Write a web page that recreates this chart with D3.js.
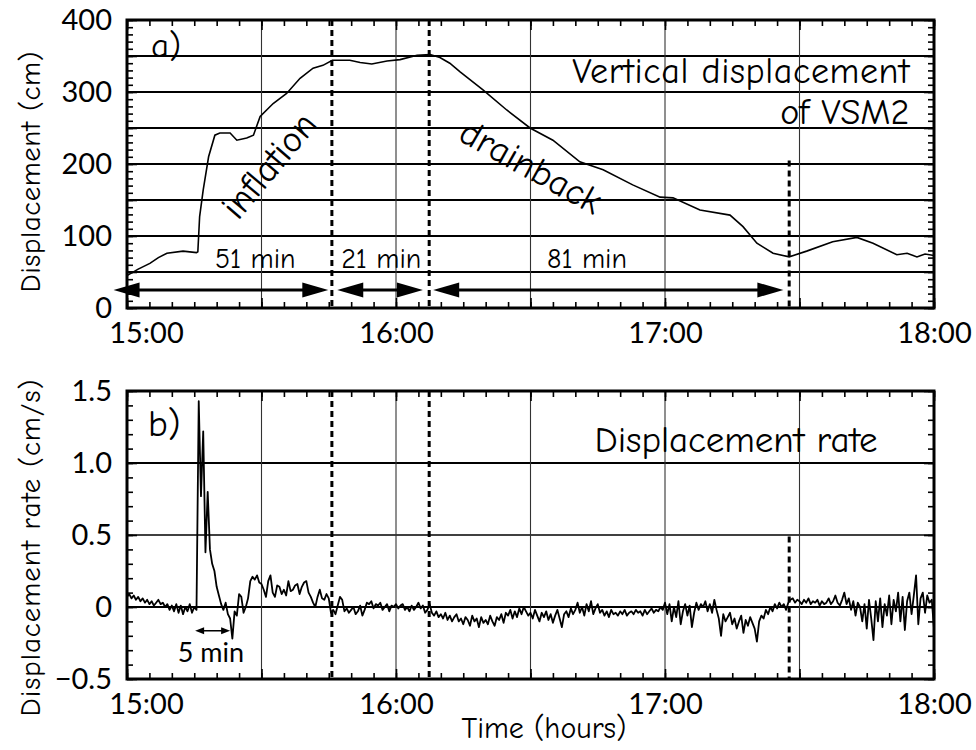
<!DOCTYPE html>
<html>
<head>
<meta charset="utf-8">
<script src="https://cdn.jsdelivr.net/npm/d3@7/dist/d3.min.js"></script>
<style>
body { margin: 0; background: #fff; }
</style>
</head>
<body>
<svg id="chart" width="976" height="750"></svg>
<script>

// TOP PANEL DATA (minutes after 15:00, cm)
let dispTime = [0, 2.5, 5.1, 7, 8.9, 12.5, 15.5, 15.8, 16.2, 17, 18.2, 19.6, 20.7, 23, 24.5, 26.7, 28.2, 29.7, 32.6, 35.6, 38.6, 41.5, 43.7, 45.8, 49.7, 52, 54.6, 58, 60.9, 64.7, 67.6, 69.8, 72, 74.3, 79.4, 84.7, 89.9, 95, 101, 106.2, 112.8, 118.9, 121.8, 127.8, 134.5, 137.4, 140.5, 144.1, 147.7, 151.6, 157.4, 162.8, 166.4, 171.7, 174, 176.2, 178, 180]
let dispValue = [45, 54, 62, 70, 76, 79, 77, 78, 127, 164, 210, 240, 243, 243, 233, 236, 240, 266, 284, 298, 319, 333, 337, 344, 344, 341, 339, 343, 345, 351, 352, 348, 340, 328, 303, 275, 250, 233, 203, 192, 171, 154, 153, 136, 129, 113, 90, 76, 71, 79, 92, 98, 90, 74, 76, 71, 75, 73]

// BOTTOM PANEL DATA (cm/s, one value every half minute from 15:00)
let rateStart = 0
let rateStep = 0.5
let rateValues = [
    0.07, 0.09, 0.06, 0.08, 0.05, 0.07, 0.04, 0.06, 0.03, 0.05, 0.02, 0.04, 0.01, 0.03, 0.05, 0.02, 0.03, 0.00, 0.02, -0.02,
    0.01, -0.03, 0.02, -0.04, 0.01, -0.05, 0.00, -0.03, 0.02, -0.04, 0.00, -0.02, 1.43, 0.77, 1.22, 0.38, 0.80, 0.40, 0.30, 0.25,
    0.14, 0.08, 0.02, -0.02, 0.03, -0.05, -0.08, -0.22, -0.03, -0.06, 0.09, 0.07, -0.04, 0.00, 0.06, 0.18, 0.21, 0.19, 0.22, 0.17,
    0.16, 0.12, 0.07, 0.18, 0.22, 0.10, 0.07, 0.15, 0.14, 0.09, 0.12, 0.08, 0.18, 0.11, 0.12, 0.15, 0.16, 0.09, 0.14, 0.17,
    0.18, 0.10, 0.07, 0.03, 0.00, 0.07, 0.12, 0.06, 0.05, 0.09, 0.06, -0.04, -0.02, -0.05, 0.01, 0.07, 0.05, -0.03, -0.01, -0.04,
    -0.02, 0.00, -0.05, -0.03, 0.01, -0.06, -0.02, 0.03, 0.02, 0.04, -0.01, 0.02, 0.01, 0.03, -0.02, 0.00, 0.02, -0.03, 0.01, 0.00,
    0.02, -0.01, 0.01, 0.02, -0.02, 0.00, -0.03, 0.01, -0.02, 0.00, 0.03, -0.01, 0.01, -0.04, -0.02, 0.02, -0.04, -0.06, -0.03, -0.07,
    -0.05, -0.08, -0.04, -0.09, -0.06, -0.10, -0.07, -0.05, -0.10, -0.08, -0.12, -0.07, -0.09, -0.13, -0.06, -0.10, -0.08, -0.14, -0.07, -0.11,
    -0.09, -0.12, -0.06, -0.10, -0.13, -0.07, -0.09, -0.05, -0.11, -0.04, -0.06, -0.02, -0.08, -0.03, -0.07, -0.01, -0.05, 0.00, -0.03, -0.06,
    -0.04, -0.08, -0.02, -0.06, -0.10, -0.04, -0.07, -0.03, -0.09, -0.05, -0.11, -0.06, -0.02, -0.08, -0.14, -0.05, -0.03, -0.07, -0.01, -0.05,
    -0.02, 0.03, -0.04, 0.00, -0.06, 0.02, -0.03, 0.04, -0.05, -0.01, 0.02, -0.04, -0.02, -0.06, -0.03, -0.07, -0.02, -0.05, -0.04, -0.06,
    -0.03, -0.05, -0.02, -0.06, -0.04, -0.03, -0.05, -0.02, -0.04, -0.03, -0.06, -0.02, -0.05, -0.03, -0.01, -0.04, -0.02, -0.03, 0.00, -0.02,
    0.03, -0.05, 0.02, -0.10, 0.00, -0.07, 0.04, -0.12, -0.03, 0.02, -0.06, 0.01, -0.14, -0.04, 0.03, -0.02, 0.02, 0.00, 0.04, -0.03,
    0.02, -0.04, 0.05, -0.02, -0.08, -0.20, -0.05, -0.10, -0.07, -0.04, -0.12, -0.08, -0.15, -0.10, -0.06, -0.18, -0.09, -0.13, -0.07, -0.11,
    -0.15, -0.24, -0.10, -0.06, -0.08, -0.02, -0.05, 0.00, -0.03, 0.02, -0.01, 0.03, 0.00, 0.02, -0.02, 0.03, 0.05, 0.06, 0.03, 0.05,
    0.04, 0.02, 0.05, 0.03, 0.06, 0.02, 0.04, 0.03, 0.05, 0.01, 0.04, 0.02, 0.03, 0.06, 0.02, 0.04, 0.08, 0.03, 0.01, 0.05,
    0.10, 0.02, 0.06, -0.02, 0.04, -0.06, 0.03, 0.00, -0.10, 0.02, -0.15, 0.05, -0.08, -0.23, 0.04, -0.10, 0.06, -0.14, 0.02, -0.06,
    0.08, -0.12, 0.05, -0.03, 0.10, -0.10, 0.07, -0.16, 0.04, 0.10, -0.05, 0.08, 0.22, -0.12, 0.06, 0.10, -0.04, 0.08, 0.03, 0.05,
    -0.15
]

// EVENT MARKERS AND SPANS (minutes after 15:00)
let markerTimes = [45.7, 67.4, 147.7]
let markerTopDisp = [400, 400, 205]
let markerTopRate = [1.5, 1.5, 0.49]
let spanStart = [-3, 46.9, 68.3]
let spanEnd = [44.9, 66, 146.4]
let spanLabels = ["51 min", "21 min", "81 min"]
let spanLabelTime = [28.6, 56.7, 102.6]

// TICKS
let hourTicks = [0, 60, 120, 180]
let dispTicks = [0, 100, 200, 300, 400]
let rateTicks = [-0.5, 0, 0.5, 1.0, 1.5]

let tickFont = "Lato, 'Open Sans', sans-serif"
let textFont = "'Comic Sans MS', 'Comic Neue', 'Open Sans', sans-serif"

let margins = {left: 127, right: 42}
let svgWidth = 976 - margins.left - margins.right
let panelHeight = 288

let svg = d3.select('#chart')

let x = d3.scaleLinear().domain([0, 180]).range([0, svgWidth])
let yDisp = d3.scaleLinear().domain([0, 400]).range([panelHeight, 0])
let yRate = d3.scaleLinear().domain([-0.5, 1.5]).range([panelHeight, 0])

let fmtHour = d => `${15 + d / 60}:00`

function styleTicks(g){
    g.select('.domain').remove()
    g.selectAll('line').attr('stroke', '#000').attr('stroke-width', 1.6)
}

function drawFrame(chart, y, minorY, majorY, yFormat, yTickValues){

    // VERTICAL GRID
    chart.append('g')
        .selectAll('line')
        .data([30, 60, 90, 120, 150])
        .enter()
        .append('line')
        .attr('x1', d => x(d)).attr('x2', d => x(d))
        .attr('y1', 0).attr('y2', panelHeight)
        .attr('stroke', '#333')
        .attr('stroke-width', 1.1)

    // X TICKS (inside, top and bottom)
    let tickSets = [
        {vals: d3.range(0, 181, 5), size: 6},
        {vals: d3.range(0, 181, 30), size: 10}
    ]
    tickSets.forEach(function(t){
        chart.append('g')
            .attr('transform', `translate(0, ${panelHeight})`)
            .call(d3.axisBottom(x).tickValues(t.vals).tickSize(-t.size).tickFormat(''))
            .call(styleTicks)
        chart.append('g')
            .call(d3.axisTop(x).tickValues(t.vals).tickSize(-t.size).tickFormat(''))
            .call(styleTicks)
    })

    // Y TICKS (inside, left and right)
    let ySets = [{vals: minorY, size: 6}, {vals: majorY, size: 10}]
    ySets.forEach(function(t){
        chart.append('g')
            .call(d3.axisLeft(y).tickValues(t.vals).tickSize(-t.size).tickFormat(''))
            .call(styleTicks)
        chart.append('g')
            .attr('transform', `translate(${svgWidth}, 0)`)
            .call(d3.axisRight(y).tickValues(t.vals).tickSize(-t.size).tickFormat(''))
            .call(styleTicks)
    })

    // TICK LABELS
    chart.append('g')
        .attr('transform', `translate(0, ${panelHeight + 1})`)
        .call(d3.axisBottom(x).tickValues(hourTicks).tickSize(0).tickPadding(13).tickFormat(fmtHour))
        .call(g => g.select('.domain').remove())
        .attr('font-family', tickFont)
        .attr('font-size', 29)
        .selectAll('text')
        .attr('fill', '#000')
        .attr('dx', d => d === 0 ? 19 : 0)
    chart.append('g')
        .call(d3.axisLeft(y).tickValues(yTickValues).tickSize(0).tickPadding(15).tickFormat(yFormat))
        .call(g => g.select('.domain').remove())
        .attr('font-family', tickFont)
        .attr('font-size', 29)
        .selectAll('text').attr('fill', '#000')
}

function drawBorder(chart){
    chart.append('rect')
        .attr('x', 0).attr('y', 0)
        .attr('width', svgWidth).attr('height', panelHeight)
        .attr('fill', 'none')
        .attr('stroke', '#000')
        .attr('stroke-width', 3)
}

function drawMarkers(chart, y, tops){
    chart.append('g')
        .selectAll('line')
        .data(markerTimes)
        .enter()
        .append('line')
        .attr('x1', d => x(d)).attr('x2', d => x(d))
        .attr('y1', (d, i) => y(tops[i]))
        .attr('y2', panelHeight)
        .attr('stroke', '#000')
        .attr('stroke-width', 3)
        .attr('stroke-dasharray', '6,4')
}

function arrowHead(tipX, tipY, dir, len, half){
    return `M${tipX},${tipY}L${tipX - dir * len},${tipY - half}L${tipX - dir * len},${tipY + half}Z`
}

// ================= PANEL A =================
let chartA = svg.append('g').attr('transform', `translate(${margins.left}, 20)`)

// HORIZONTAL GRID
chartA.append('g')
    .selectAll('line')
    .data(d3.range(50, 400, 50))
    .enter()
    .append('line')
    .attr('x1', 0).attr('x2', svgWidth)
    .attr('y1', d => yDisp(d)).attr('y2', d => yDisp(d))
    .attr('stroke', '#000')
    .attr('stroke-width', 2)

drawFrame(chartA, yDisp, d3.range(0, 401, 10), d3.range(0, 401, 50), d => d, dispTicks)
drawMarkers(chartA, yDisp, markerTopDisp)

let dispData = dispTime.map((t, i) => ({t: t, v: dispValue[i]}))
chartA.append('path')
    .datum(dispData)
    .attr('fill', 'none')
    .attr('stroke', '#000')
    .attr('stroke-width', 1.6)
    .attr('d', d3.line().x(d => x(d.t)).y(d => yDisp(d.v)))

drawBorder(chartA)

// SPAN ARROWS
let arrowY = yDisp(25)
spanStart.forEach(function(s, i){
    let x0 = x(s), x1 = x(spanEnd[i])
    chartA.append('line')
        .attr('x1', x0 + 10).attr('x2', x1 - 10)
        .attr('y1', arrowY).attr('y2', arrowY)
        .attr('stroke', '#000')
        .attr('stroke-width', 3)
    chartA.append('path').attr('d', arrowHead(x0, arrowY, -1, 26, 7.5)).attr('fill', '#000')
    chartA.append('path').attr('d', arrowHead(x1, arrowY, 1, 26, 7.5)).attr('fill', '#000')
    chartA.append('text')
        .attr('x', x(spanLabelTime[i]))
        .attr('y', yDisp(55))
        .attr('text-anchor', 'middle')
        .attr('font-family', textFont)
        .attr('font-size', 28)
        .text(spanLabels[i])
})

// ANNOTATIONS
chartA.append('text')
    .attr('x', 24).attr('y', 37)
    .attr('font-family', textFont).attr('font-size', 35)
    .text('a)')
chartA.append('text')
    .attr('x', x(174.5)).attr('y', 63)
    .attr('text-anchor', 'end')
    .attr('font-family', textFont).attr('font-size', 36)
    .attr('textLength', 337)
    .text('Vertical displacement')
chartA.append('text')
    .attr('x', x(174.5)).attr('y', 104)
    .attr('text-anchor', 'end')
    .attr('font-family', textFont).attr('font-size', 36)
    .text('of VSM2')
chartA.append('text')
    .attr('transform', `translate(${x(31.7)}, ${yDisp(198)}) rotate(-50)`)
    .attr('text-anchor', 'middle')
    .attr('dominant-baseline', 'central')
    .attr('font-family', textFont).attr('font-size', 37)
    .text('inflation')
chartA.append('text')
    .attr('transform', `translate(${x(90.1)}, ${yDisp(196)}) rotate(29)`)
    .attr('text-anchor', 'middle')
    .attr('dominant-baseline', 'central')
    .attr('font-family', textFont).attr('font-size', 37)
    .text('drainback')

// ================= PANEL B =================
let chartB = svg.append('g').attr('transform', `translate(${margins.left}, 391)`)

let rateGrid = [0, 0.5, 1.0]
let rateGridWidth = [1.8, 1.4, 2.2]
chartB.append('g')
    .selectAll('line')
    .data(rateGrid)
    .enter()
    .append('line')
    .attr('x1', 0).attr('x2', svgWidth)
    .attr('y1', d => yRate(d)).attr('y2', d => yRate(d))
    .attr('stroke', '#000')
    .attr('stroke-width', (d, i) => rateGridWidth[i])

drawFrame(chartB, yRate, d3.range(-5, 16, 1).map(d => d / 10), rateTicks, d => d === 0 ? '0' : d3.format('.1f')(d), rateTicks)
drawMarkers(chartB, yRate, markerTopRate)

let rateData = rateValues.map((v, i) => ({t: rateStart + i * rateStep, v: v}))
chartB.append('path')
    .datum(rateData)
    .attr('fill', 'none')
    .attr('stroke', '#000')
    .attr('stroke-width', 1.8)
    .attr('stroke-linejoin', 'round')
    .attr('d', d3.line().x(d => x(d.t)).y(d => yRate(d.v)))

drawBorder(chartB)

// 5 MIN ARROW
let smallY = yRate(-0.165)
let sx0 = x(15.2), sx1 = x(23.0)
chartB.append('line')
    .attr('x1', sx0 + 6).attr('x2', sx1 - 6)
    .attr('y1', smallY).attr('y2', smallY)
    .attr('stroke', '#000').attr('stroke-width', 1.5)
chartB.append('path').attr('d', arrowHead(sx0, smallY, -1, 9, 3.5)).attr('fill', '#000')
chartB.append('path').attr('d', arrowHead(sx1, smallY, 1, 9, 3.5)).attr('fill', '#000')
chartB.append('text')
    .attr('x', x(18.7)).attr('y', yRate(-0.385))
    .attr('text-anchor', 'middle')
    .attr('font-family', tickFont).attr('font-size', 27)
    .text('5 min')

chartB.append('text')
    .attr('x', 21).attr('y', 45)
    .attr('font-family', textFont).attr('font-size', 37)
    .text('b)')
chartB.append('text')
    .attr('x', x(167.4)).attr('y', 61)
    .attr('text-anchor', 'end')
    .attr('font-family', textFont).attr('font-size', 37)
    .attr('textLength', 283)
    .text('Displacement rate')

// AXIS TITLES
svg.append('text')
    .attr('transform', 'translate(40, 172) rotate(-90)')
    .attr('text-anchor', 'middle')
    .attr('font-family', textFont).attr('font-size', 29)
    .attr('textLength', 241)
    .text('Displacement (cm)')
svg.append('text')
    .attr('transform', 'translate(40, 548) rotate(-90)')
    .attr('text-anchor', 'middle')
    .attr('font-family', textFont).attr('font-size', 29)
    .attr('textLength', 337)
    .text('Displacement rate (cm/s)')
svg.append('text')
    .attr('x', 544).attr('y', 738)
    .attr('text-anchor', 'middle')
    .attr('font-family', textFont).attr('font-size', 30)
    .attr('textLength', 165)
    .text('Time (hours)')

</script>
</body>
</html>
